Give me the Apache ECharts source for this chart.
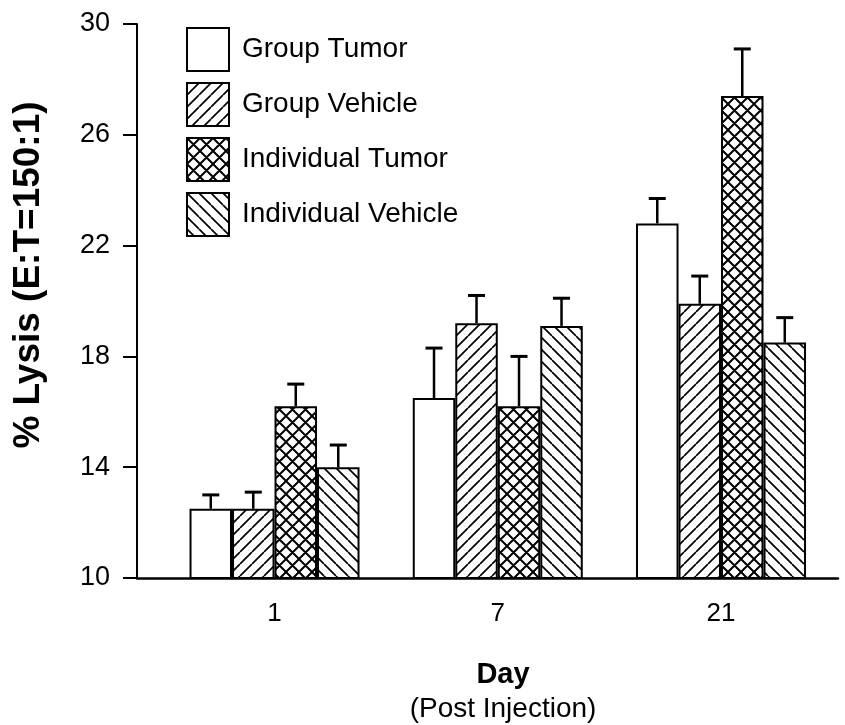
<!DOCTYPE html>
<html>
<head>
<meta charset="utf-8">
<script src="https://cdn.jsdelivr.net/npm/echarts@6/dist/echarts.min.js"></script>
<style>
  html, body { margin: 0; background: #fff; }
  #chart { width: 845px; height: 725px; }
</style>
</head>
<body>
<div id="chart"></div>
<script>
const days = ["1", "7", "21"];
const seriesNames = ["Group Tumor", "Group Vehicle", "Individual Tumor", "Individual Vehicle"];

// bar heights (% lysis) and the top of each error bar
const groupTumor = [12.5, 16.5, 22.8];
const groupVehicle = [12.5, 19.2, 19.9];
const individualTumor = [16.2, 16.2, 27.4];
const individualVehicle = [14.0, 19.1, 18.5];

const groupTumorTop = [13.0, 18.3, 23.7];
const groupVehicleTop = [13.1, 20.2, 20.9];
const individualTumorTop = [17.0, 18.0, 29.1];
const individualVehicleTop = [14.8, 20.1, 19.4];

const yTicks = [10, 14, 18, 22, 26, 30];

const FONT = "'Liberation Sans', Arial, sans-serif";
const BAR_W = 42.5;
const CAP_W = 17;

function hatch(kind, size, width) {
  if (kind === "none") {
    return "#fff";
  }
  const c = document.createElement("canvas");
  c.width = size;
  c.height = size;
  const ctx = c.getContext("2d");
  ctx.fillStyle = "#fff";
  ctx.fillRect(0, 0, size, size);
  ctx.strokeStyle = "#000";
  ctx.lineWidth = width;
  ctx.beginPath();
  for (let k = -1; k <= 1; k++) {
    if (kind !== "back") {
      ctx.moveTo(k * size, size);
      ctx.lineTo(k * size + size, 0);
    }
    if (kind !== "fwd") {
      ctx.moveTo(k * size, 0);
      ctx.lineTo(k * size + size, size);
    }
  }
  ctx.stroke();
  return { image: c, repeat: "repeat" };
}

const fills = [
  hatch("none", 12, 0),
  hatch("fwd", 12, 1.7),
  hatch("cross", 13, 2),
  hatch("back", 12, 1.7),
];

const values = [groupTumor, groupVehicle, individualTumor, individualVehicle];
const tops = [groupTumorTop, groupVehicleTop, individualTumorTop, individualVehicleTop];

const barSeries = seriesNames.map((name, s) => ({
  name,
  type: "bar",
  barWidth: BAR_W,
  barGap: "0%",
  data: values[s].map((v, i) => [i, v]),
  itemStyle: { color: fills[s], borderColor: "#000", borderWidth: 2 },
  emphasis: { disabled: true },
}));

const errorData = [];
values.forEach((arr, s) => {
  arr.forEach((v, i) => errorData.push([i, s, v, tops[s][i]]));
});

const chart = echarts.init(document.getElementById("chart"));

chart.setOption({
  animation: false,
  backgroundColor: "#fff",
  grid: { left: 137, right: 7, top: 24, bottom: 147, outerBoundsMode: "none" },
  title: {
    text: "Day",
    subtext: "(Post Injection)",
    left: 498,
    top: 655,
    textAlign: "center",
    itemGap: 6,
    textStyle: { fontFamily: FONT, fontSize: 29, fontWeight: "bold", color: "#000" },
    subtextStyle: { fontFamily: FONT, fontSize: 28, color: "#000" },
  },
  legend: {
    data: seriesNames,
    orient: "vertical",
    left: 181,
    top: 22,
    itemWidth: 42,
    itemHeight: 43,
    itemGap: 10,
    icon: "rect",
    selectedMode: false,
    itemStyle: { borderColor: "#000", borderWidth: 2 },
    textStyle: { fontFamily: FONT, fontSize: 28, color: "#000", padding: [0, 0, 0, 8] },
  },
  xAxis: {
    type: "value",
    min: -0.616,
    max: 2.524,
    splitLine: { show: false },
    axisTick: { show: false },
    axisLine: { show: true, onZero: false, lineStyle: { color: "#000", width: 2.5 } },
    axisLabel: {
      customValues: [0, 1, 2],
      formatter: (v) => days[Math.round(v)],
      margin: 23,
      fontFamily: FONT,
      fontSize: 26,
      color: "#000",
    },
  },
  yAxis: {
    type: "value",
    min: yTicks[0],
    max: yTicks[yTicks.length - 1],
    interval: 4,
    name: "% Lysis (E:T=150:1)",
    nameLocation: "middle",
    nameGap: 90,
    nameTextStyle: {
      fontFamily: FONT,
      fontSize: 37,
      fontWeight: "bold",
      color: "#000",
      padding: [0, 0, 0, 52],
    },
    splitLine: { show: false },
    axisLine: { show: true, onZero: false, lineStyle: { color: "#000", width: 2 } },
    axisTick: { show: true, length: 14, lineStyle: { color: "#000", width: 2 } },
    axisLabel: { margin: 27, fontFamily: FONT, fontSize: 27, color: "#000" },
  },
  series: [
    ...barSeries,
    {
      name: "error",
      type: "custom",
      z: 5,
      data: errorData,
      encode: { x: 0, y: 3 },
      renderItem(params, api) {
        const day = api.value(0);
        const s = api.value(1);
        const base = api.coord([day, api.value(2)]);
        const end = api.coord([day, api.value(3)]);
        const x = base[0] + (s - 1.5) * BAR_W;
        return {
          type: "group",
          children: [
            {
              type: "line",
              shape: { x1: x, y1: base[1], x2: x, y2: end[1] },
              style: { stroke: "#000", lineWidth: 2.5 },
            },
            {
              type: "line",
              shape: { x1: x - CAP_W / 2, y1: end[1], x2: x + CAP_W / 2, y2: end[1] },
              style: { stroke: "#000", lineWidth: 3 },
            },
          ],
        };
      },
    },
  ],
});
</script>
</body>
</html>
